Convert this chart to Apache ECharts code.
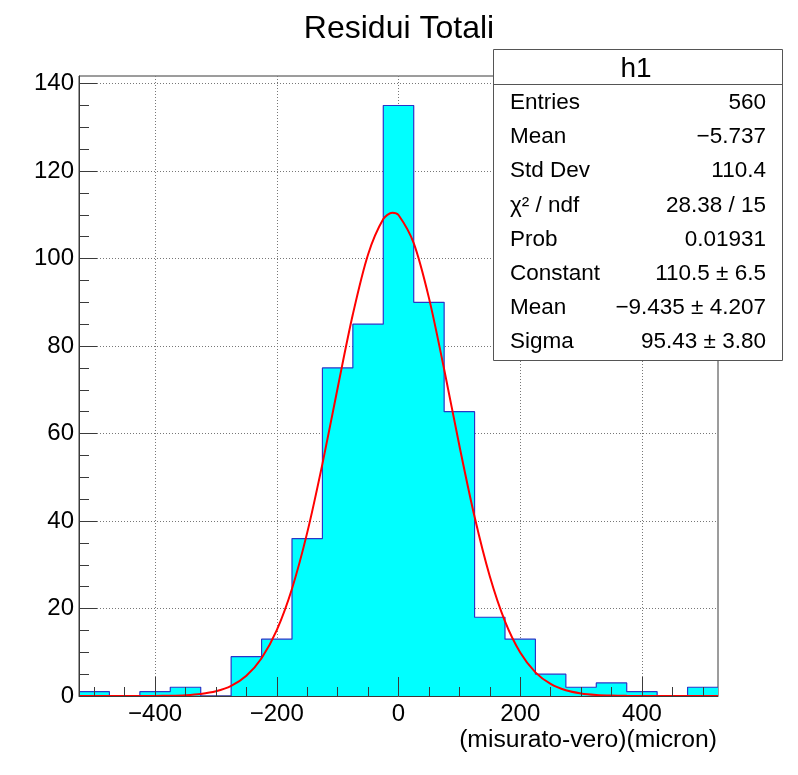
<!DOCTYPE html>
<html><head><meta charset="utf-8">
<script src="https://cdn.jsdelivr.net/npm/echarts@6/dist/echarts.min.js"></script>
<style>html,body{margin:0;padding:0;background:#fff}#c{width:798px;height:775px}</style>
</head><body><div id="c"></div>
<script>
// ---- data ----
const binCenters = [-500,-450,-400,-350,-300,-250,-200,-150,-100,-50,0,50,100,150,200,250,300,350,400,450,500];
const counts     = [1,0,1,2,0,9,13,36,75,85,135,90,65,18,13,5,2,3,1,0,2];
const BIN_W = 50;
const X_MIN = -525, X_MAX = 525, Y_MAX = 141.75;
const fitX = [-525,-500,-475,-450,-425,-400,-375,-350,-325,-300,-275,-250,-225,-200,-175,-150,-125,-100,-75,-50,-25,-10,0,25,50,75,100,125,150,175,200,225,250,275,300,325,350,375,400,425,450,475,500,525];
const fitY = [0.0001,0.0002,0.0008,0.0026,0.0084,0.0255,0.072,0.19,0.466,1.07,2.30,4.61,8.62,15.05,24.53,37.35,53.08,70.43,87.27,100.95,109.04,110.5,109.96,103.53,91.02,74.71,57.26,40.97,27.37,17.07,9.94,5.41,2.75,1.30,0.576,0.238,0.092,0.033,0.011,0.0035,0.001,0.0003,0.0001,0.0001];
const xMajorTicks = [-400,-200,0,200,400];
const xMinorTicks = [-500,-450,-350,-300,-250,-150,-100,-50,50,100,150,250,300,350,450,500];
const yMajorTicks = [0,20,40,60,80,100,120,140];
const yMinorTicks = [5,10,15,25,30,35,45,50,55,65,70,75,85,90,95,105,110,115,125,130,135];
const titleText = 'Residui Totali';
const xAxisTitle = '(misurato-vero)(micron)';
const statsName = 'h1';
const statsLabels = ['Entries','Mean','Std Dev','\u03c7\u00b2 / ndf','Prob','Constant','Mean','Sigma'];
const statsValues = ['560','\u22125.737','110.4','28.38 / 15','0.01931','110.5 \u00b1 6.5','\u22129.435 \u00b1 4.207','95.43 \u00b1 3.80'];

// ---- build ----
const FONT = '"Liberation Sans", Arial, Helvetica, sans-serif';
const histPts = counts.map((c, i) => [binCenters[i] - BIN_W / 2, c]);
histPts.push([binCenters[binCenters.length - 1] + BIN_W / 2, counts[counts.length - 1]]);
const fitPts = fitX.map((x, i) => [x, fitY[i]]);
const fmt = v => String(v).replace('-', '\u2212');
const axisCol = '#3a3a3a';

const stats = [];
const BX = 493, BY = 49, BW = 289, BH = 311;
stats.push({type:'rect', shape:{x:BX+0.5, y:BY+0.5, width:BW, height:BH}, style:{fill:'#fff', stroke:'#555', lineWidth:1}, z:100});
stats.push({type:'line', shape:{x1:BX, y1:84.5, x2:BX+BW, y2:84.5}, style:{stroke:'#555', lineWidth:1}, z:101});
stats.push({type:'text', x:636, y:69, style:{text:statsName, font:'28px '+FONT, fill:'#000', align:'center', verticalAlign:'middle'}, z:101});
statsLabels.forEach((t, i) => {
  const yy = 103 + i * 34.1;
  stats.push({type:'text', x:510, y:yy, style:{text:t, font:'22.5px '+FONT, fill:'#000', align:'left', verticalAlign:'middle'}, z:101});
  stats.push({type:'text', x:766, y:yy, style:{text:statsValues[i], font:'22.5px '+FONT, fill:'#000', align:'right', verticalAlign:'middle'}, z:101});
});
stats.push({type:'text', x:717, y:740, style:{text:xAxisTitle, font:'24.7px '+FONT, fill:'#000', align:'right', verticalAlign:'middle'}, z:101});

function tickAxis(kind, vals, len, withLine) {
  const base = kind === 'x'
    ? {type:'value', min:X_MIN, max:X_MAX, position:'bottom'}
    : {type:'value', min:0, max:Y_MAX, position:'left'};
  return Object.assign(base, {
    z:10,
    axisLine:{show:withLine, onZero:false, lineStyle:{color:axisCol, width:1}},
    axisTick:{show:true, inside:true, length:len, customValues:vals, lineStyle:{color:axisCol}},
    axisLabel:{show:false}, splitLine:{show:false}
  });
}

const chart = echarts.init(document.getElementById('c'), null, {renderer:'canvas'});
chart.setOption({
  animation:false,
  backgroundColor:'#fff',
  title:{text:titleText, left:'center', top:8, textStyle:{fontFamily:FONT, fontSize:32, fontWeight:'normal', color:'#000'}},
  grid:{left:79, right:80, top:76, bottom:79, show:true, borderColor:axisCol, borderWidth:1, backgroundColor:'#fff'},
  xAxis:[
    {type:'value', min:X_MIN, max:X_MAX, position:'bottom', z:0,
     axisLine:{show:false, onZero:false},
     axisTick:{show:false, customValues:xMajorTicks},
     axisLabel:{show:true, customValues:xMajorTicks, margin:6, formatter:fmt, fontFamily:FONT, fontSize:24, color:'#000'},
     splitLine:{show:true, lineStyle:{color:'#777', type:[1,2], width:1}}},
    tickAxis('x', xMinorTicks, 9, false),
    tickAxis('x', xMajorTicks, 19, true)
  ],
  yAxis:[
    {type:'value', min:0, max:Y_MAX, position:'left', z:0,
     axisLine:{show:false, onZero:false},
     axisTick:{show:false, customValues:yMajorTicks},
     axisLabel:{show:true, customValues:yMajorTicks, margin:5, formatter:fmt, fontFamily:FONT, fontSize:24, color:'#000'},
     splitLine:{show:true, lineStyle:{color:'#777', type:[1,2], width:1}}},
    tickAxis('y', yMinorTicks, 10, false),
    tickAxis('y', yMajorTicks, 18, true)
  ],
  series:[
    {type:'line', name:'h1', data:histPts, step:'end', symbol:'none', showSymbol:false,
     lineStyle:{color:'#2a35c8', width:1.2}, areaStyle:{color:'#00ffff', opacity:1, origin:'start'}, z:3},
    {type:'line', name:'gaus', data:fitPts, smooth:0.3, symbol:'none', showSymbol:false,
     lineStyle:{color:'#ff0000', width:2}, z:4}
  ],
  graphic:stats
});
</script></body></html>
